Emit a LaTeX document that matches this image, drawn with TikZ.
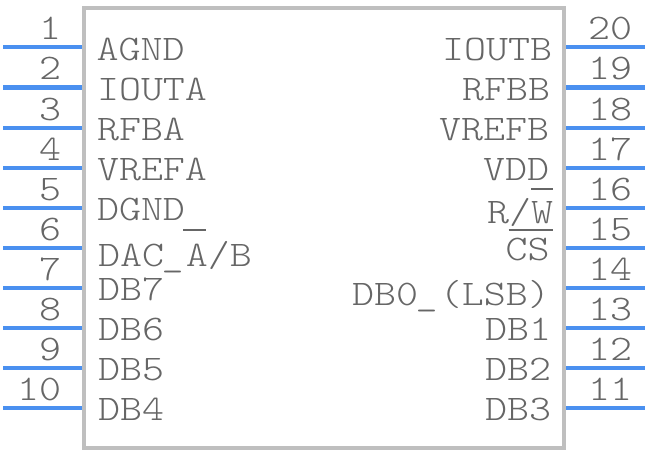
\documentclass[tikz,border=0pt]{standalone}
\usepackage{fontspec}
\setmonofont[FakeStretch=1.164]{Latin Modern Mono Light}
\definecolor{pinblue}{HTML}{4A90F0}
\definecolor{bodygrey}{HTML}{BFBFBF}
\definecolor{textgrey}{HTML}{666666}
\newcommand{\ovbar}[4]{\leavevmode\rlap{\hspace{#1pt}\raisebox{#2pt}{\rule{#3pt}{1.7pt}}}#4}
\newcommand{\uscore}{\kern-2.5pt\_\kern2.5pt}
\tikzset{
  x=1pt,y=-1pt,
  bodybox/.style={draw=bodygrey,line width=4pt,line join=miter,fill=white},
  pinline/.style={draw=pinblue,line width=4pt},
  lbl/.style={inner sep=0pt,outer sep=0pt,text=textgrey,font=\fontsize{36}{36}\selectfont\ttfamily},
  lblw/.style={lbl,anchor=base west},
  lble/.style={lbl,anchor=base east},
}
\begin{document}
\begin{tikzpicture}
\useasboundingbox (0,0) rectangle (648,452);
\draw[bodybox] (84,8) rectangle (564,448);
\foreach \i in {1,...,10}{
  \pgfmathsetmacro{\yy}{47.5+40*(\i-1)}
  \pgfmathtruncatemacro{\j}{21-\i}
  \coordinate (la\i) at (3,\yy);
  \coordinate (lb\i) at (82,\yy);
  \coordinate (ra\j) at (645,\yy);
  \coordinate (rb\j) at (566,\yy);
  \draw[pinline] (la\i) -- (lb\i);
  \draw[pinline] (rb\j) -- (ra\j);
  \node[lble] (nl\i) at (61,{\yy-7.5}) {\i};
  \node[lblw] (nr\j) at (588,{\yy-7.5}) {\j};
}
\node[lblw] (agnd) at (96.5,60) {AGND};
\node[lblw] (iouta) at (97,100) {IOUTA};
\node[lblw] (rfba) at (97,140) {RFBA};
\node[lblw] (vrefa) at (97,180) {VREFA};
\node[lblw] (dgnd) at (97,220) {DGND};
\node[lblw] (dac) at (98,266) {DAC\uscore\ovbar{-2.5}{35}{23}{A}/B};
\node[lblw] (db7) at (98,300) {DB7};
\node[lblw] (db6) at (98,340) {DB6};
\node[lblw] (db5) at (98,380) {DB5};
\node[lblw] (db4) at (98,420) {DB4};
\node[lble] (ioutb) at (552,60) {IOUTB};
\node[lble] (rfbb) at (550,100) {RFBB};
\node[lble] (vrefb) at (549,140) {VREFB};
\node[lble] (vdd) at (549,180) {VDD};
\node[lble] (rw) at (553,223) {R/\ovbar{0}{33}{22}{W}};
\node[lble] (cs) at (549.5,260) {\ovbar{3}{29}{44.5}{C}S};
\node[lble] (db0) at (550,305) {DB0\uscore(LSB)};
\node[lble] (db1) at (551,340) {DB1};
\node[lble] (db2) at (551,380) {DB2};
\node[lble] (db3) at (551,420) {DB3};
\end{tikzpicture}
\end{document}
